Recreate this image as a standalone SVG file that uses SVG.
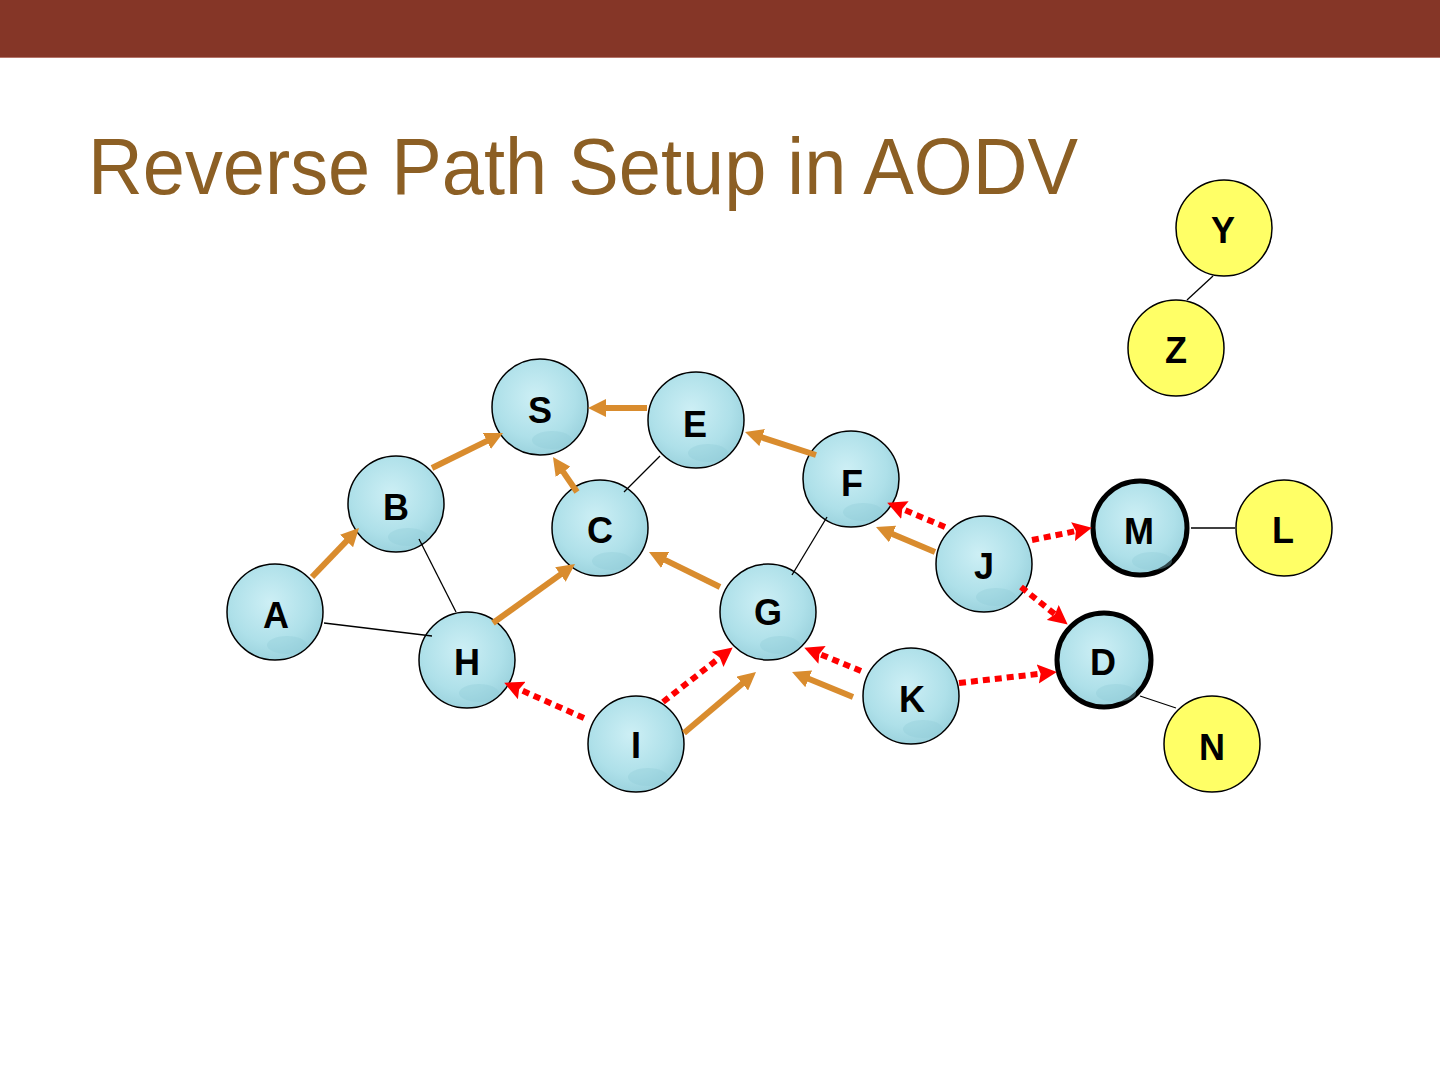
<svg xmlns="http://www.w3.org/2000/svg" width="1440" height="1080" viewBox="0 0 1440 1080">
<defs>
<radialGradient id="blue" cx="45%" cy="40%" r="60%">
<stop offset="0" stop-color="#CDEFF5"/>
<stop offset="0.7" stop-color="#AEE0E9"/>
<stop offset="1" stop-color="#9CD3DE"/>
</radialGradient>
<marker id="ao" viewBox="0 0 10 10" refX="3" refY="5" markerWidth="3" markerHeight="3" orient="auto">
<path d="M0,0 L10,5 L0,10 z" fill="#D98C2E"/>
</marker>
<marker id="ar" viewBox="0 0 10 10" refX="3" refY="5" markerWidth="3.2" markerHeight="3.2" orient="auto">
<path d="M0,0 L10,5 L0,10 L1.5,5 z" fill="#FF0000"/>
</marker>
</defs>
<style>
.n{fill:url(#blue);stroke:#000;stroke-width:1.5}
.nt{fill:url(#blue);stroke:#000;stroke-width:5}
.y{fill:#FFFF66;stroke:#000;stroke-width:1.5}
.drop{fill:#8FCAD6;opacity:0.35}
.lb{font-family:"Liberation Sans",Arial,sans-serif;font-weight:bold;font-size:36px;fill:#000;text-anchor:middle}
.ln{stroke:#000;stroke-width:1.3;fill:none}
.or{stroke:#D98C2E;stroke-width:6;fill:none;marker-end:url(#ao)}
.rd{stroke:#FF0000;stroke-width:6;fill:none;stroke-dasharray:7 5;marker-end:url(#ar)}
</style>
<rect x="0" y="0" width="1440" height="57" fill="#853627"/>
<rect x="0" y="57" width="1440" height="1" fill="#B5746A"/>
<text x="88" y="194" font-family="Liberation Sans,Arial,sans-serif" font-size="79" textLength="990" lengthAdjust="spacingAndGlyphs" fill="#8C5F24">Reverse Path Setup in AODV</text>

<g id="node-S"><circle class="n" cx="540" cy="407" r="48"/><ellipse class="drop" cx="552" cy="440" rx="20" ry="9"/><text class="lb" x="540" y="423">S</text></g>
<g id="node-E"><circle class="n" cx="696" cy="420" r="48"/><ellipse class="drop" cx="708" cy="453" rx="20" ry="9"/><text class="lb" x="695" y="437">E</text></g>
<g id="node-F"><circle class="n" cx="851" cy="479" r="48"/><ellipse class="drop" cx="863" cy="512" rx="20" ry="9"/><text class="lb" x="852" y="496">F</text></g>
<g id="node-C"><circle class="n" cx="600" cy="528" r="48"/><ellipse class="drop" cx="612" cy="561" rx="20" ry="9"/><text class="lb" x="600" y="543">C</text></g>
<g id="node-B"><circle class="n" cx="396" cy="504" r="48"/><ellipse class="drop" cx="408" cy="537" rx="20" ry="9"/><text class="lb" x="396" y="520">B</text></g>
<g id="node-A"><circle class="n" cx="275" cy="612" r="48"/><ellipse class="drop" cx="287" cy="645" rx="20" ry="9"/><text class="lb" x="276" y="628">A</text></g>
<g id="node-H"><circle class="n" cx="467" cy="660" r="48"/><ellipse class="drop" cx="479" cy="693" rx="20" ry="9"/><text class="lb" x="467" y="675">H</text></g>
<g id="node-G"><circle class="n" cx="768" cy="612" r="48"/><ellipse class="drop" cx="780" cy="645" rx="20" ry="9"/><text class="lb" x="768" y="625">G</text></g>
<g id="node-I"><circle class="n" cx="636" cy="744" r="48"/><ellipse class="drop" cx="648" cy="777" rx="20" ry="9"/><text class="lb" x="636" y="758">I</text></g>
<g id="node-K"><circle class="n" cx="911" cy="696" r="48"/><ellipse class="drop" cx="923" cy="729" rx="20" ry="9"/><text class="lb" x="912" y="712">K</text></g>
<g id="node-J"><circle class="n" cx="984" cy="564" r="48"/><ellipse class="drop" cx="996" cy="597" rx="20" ry="9"/><text class="lb" x="984" y="579">J</text></g>
<g id="node-M"><circle class="nt" cx="1140" cy="528" r="47"/><ellipse class="drop" cx="1152" cy="561" rx="20" ry="9"/><text class="lb" x="1139" y="544">M</text></g>
<g id="node-D"><circle class="nt" cx="1104" cy="660" r="47"/><ellipse class="drop" cx="1116" cy="693" rx="20" ry="9"/><text class="lb" x="1103" y="675">D</text></g>
<g id="node-L"><circle class="y" cx="1284" cy="528" r="48"/><text class="lb" x="1283" y="543">L</text></g>
<g id="node-N"><circle class="y" cx="1212" cy="744" r="48"/><text class="lb" x="1212" y="760">N</text></g>
<g id="node-Y"><circle class="y" cx="1224" cy="228" r="48"/><text class="lb" x="1223" y="243">Y</text></g>
<g id="node-Z"><circle class="y" cx="1176" cy="348" r="48"/><text class="lb" x="1176" y="363">Z</text></g>

<g id="connectors">
<line class="ln" x1="660" y1="456" x2="624" y2="492"/>
<line class="ln" x1="419" y1="539" x2="456" y2="612"/>
<line class="ln" x1="324" y1="623" x2="432" y2="636"/>
<line class="ln" x1="827" y1="517" x2="792" y2="575"/>
<line class="ln" x1="1191" y1="528" x2="1235" y2="528"/>
<line class="ln" x1="1140" y1="696" x2="1176" y2="708"/>
<line class="ln" x1="1213" y1="276" x2="1187" y2="300"/>

<line class="or" x1="312" y1="577" x2="350.3" y2="537.1"/>
<line class="or" x1="432" y1="468" x2="491.7" y2="438.6"/>
<line class="or" x1="647" y1="408" x2="600.6" y2="408"/>
<line class="or" x1="577" y1="492" x2="560.1" y2="467.4"/>
<line class="or" x1="816" y1="455" x2="757" y2="435.9"/>
<line class="or" x1="493" y1="623" x2="564.8" y2="571.4"/>
<line class="or" x1="720" y1="587" x2="660.3" y2="557.6"/>
<line class="or" x1="935" y1="552" x2="887.6" y2="531.9"/>
<line class="or" x1="684" y1="733" x2="746.4" y2="680.1"/>
<line class="or" x1="853" y1="697" x2="803.7" y2="676.8"/>

<line class="rd" x1="945" y1="527" x2="899.6" y2="507.9"/>
<line class="rd" x1="1032" y1="540" x2="1078.7" y2="530.5"/>
<line class="rd" x1="1021" y1="587" x2="1057.2" y2="616.1"/>
<line class="rd" x1="959" y1="683" x2="1043.5" y2="673.4"/>
<line class="rd" x1="861" y1="671" x2="816.7" y2="652.8"/>
<line class="rd" x1="584" y1="718" x2="516.5" y2="688.1"/>
<line class="rd" x1="663" y1="702" x2="722.1" y2="655.8"/>
</g>
</svg>
